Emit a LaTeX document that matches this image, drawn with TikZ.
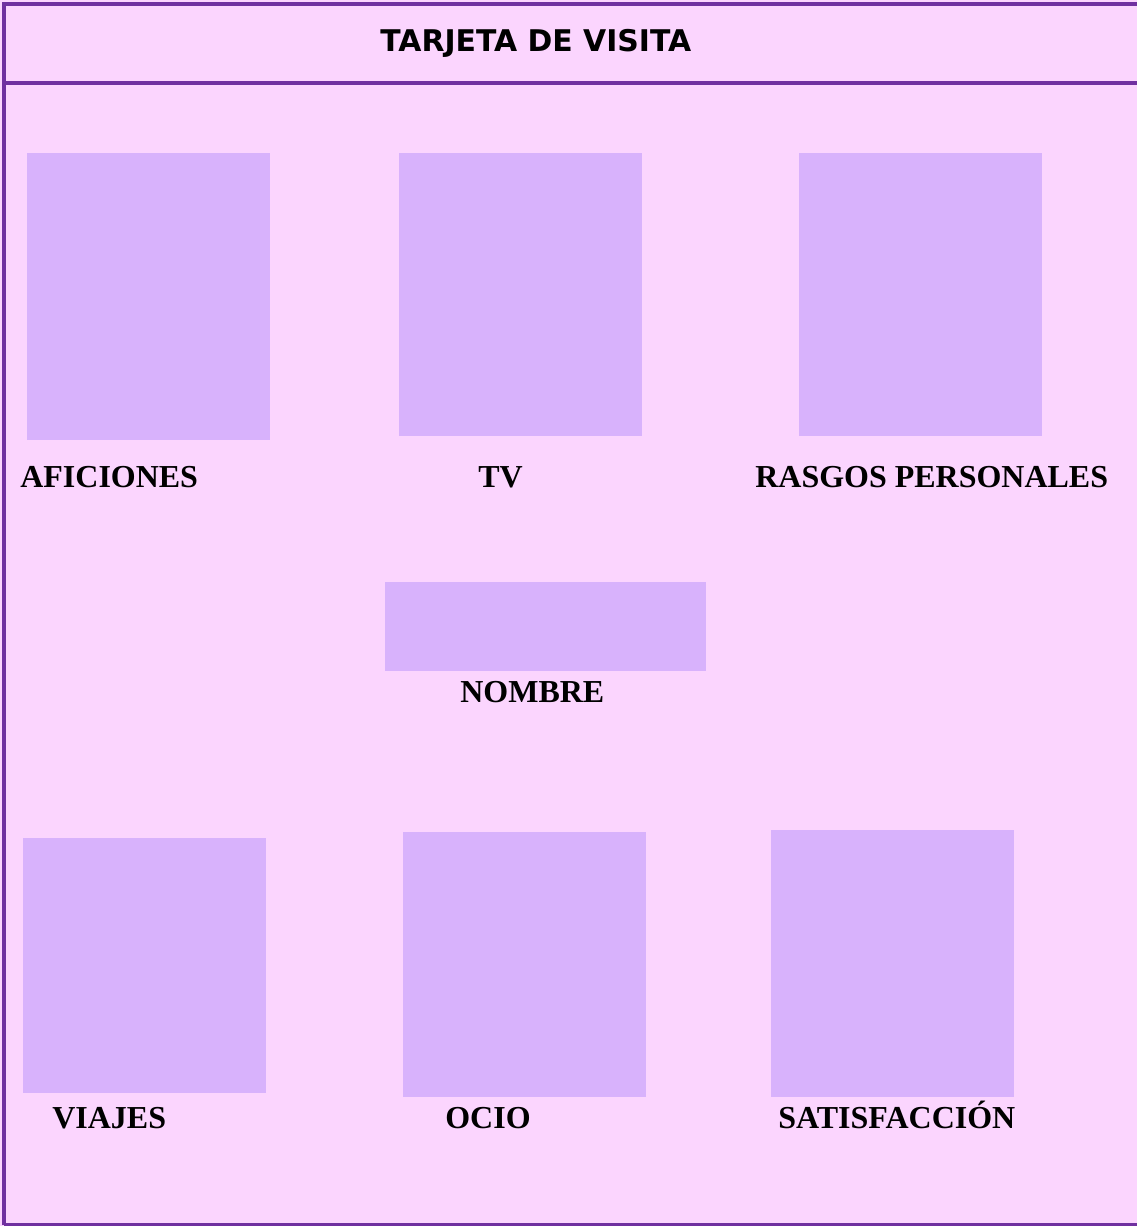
\documentclass[tikz,border=0pt]{standalone}
\usepackage{fontspec}
\setmainfont{Liberation Serif}
\newfontfamily\titlefont{DejaVu Sans}
\usepackage{tikz}
\usetikzlibrary{positioning}

\definecolor{fondo}{HTML}{FBD5FE}
\definecolor{caja}{HTML}{D8B2FC}
\definecolor{marco}{HTML}{7030A0}

\tikzset{
  foto/.style={fill=caja},
  linea/.style={draw=marco, line width=1.9pt},
  rotulo/.style={anchor=base west, inner sep=0pt, font=\fontsize{18.2}{22}\selectfont\bfseries},
  titulo/.style={anchor=base west, inner sep=0pt, font=\titlefont\fontsize{17}{22}\selectfont\bfseries}
}

\begin{document}
\begin{tikzpicture}[x=0.02cm, y=-0.02cm]
  \useasboundingbox (0,0) rectangle (1137,1226);
  % background and frame
  \fill[fondo] (0,0) rectangle (1137,1226);
  \draw[linea] (4,1225) -- (4,4) -- (1137,4);
  \draw[linea] (4,83) -- (1137,83);
  \draw[linea] (4,1225) -- (1137,1225);
  \node[titulo] (titulo) at (380,52) {TARJETA DE VISITA};
  % picture boxes, top row
  \fill[foto] (27,153) rectangle (270,440);
  \fill[foto] (399,153) rectangle (642,436);
  \fill[foto] (799,153) rectangle (1042,436);
  \node[rotulo] (aficiones) at (20,487) {AFICIONES};
  \node[rotulo] (tv) at (478,487) {TV};
  \node[rotulo] (rasgos) at (755,487) {RASGOS PERSONALES};
  % name
  \fill[foto] (385,582) rectangle (706,671);
  \node[rotulo] (nombre) at (460,702) {NOMBRE};
  % bottom row
  \fill[foto] (23,838) rectangle (266,1093);
  \fill[foto] (403,832) rectangle (646,1097);
  \fill[foto] (771,830) rectangle (1014,1097);
  \node[rotulo] (viajes) at (52,1128) {VIAJES};
  \node[rotulo] (ocio) at (445,1128) {OCIO};
  \node[rotulo] (satisf) at (778,1128) {SATISFACCIÓN};
\end{tikzpicture}
\end{document}
